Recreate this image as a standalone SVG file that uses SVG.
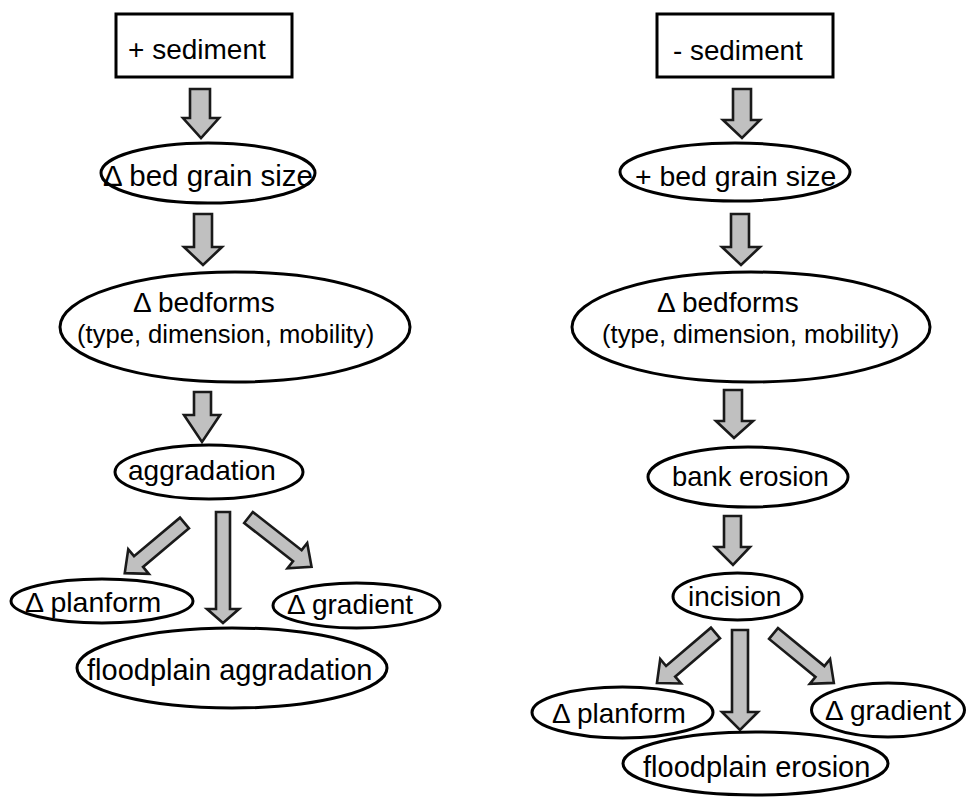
<svg xmlns="http://www.w3.org/2000/svg" width="966" height="797" viewBox="0 0 966 797">
<style>
.box{fill:#fff;stroke:#000;stroke-width:3}
.ell{fill:#fff;stroke:#000;stroke-width:3}
.arr{fill:#c0c0c0;stroke:#1a1a1a;stroke-width:2.6;stroke-linejoin:miter}
text{font-family:"Liberation Sans",Arial,sans-serif;fill:#000;font-size:28px}
</style>
<rect width="966" height="797" fill="#fff"/>
<g id="connectors">
<polygon class="arr" points="190,89 210,89 210,118 219,118 201,138 183,118 190,118"/>
<polygon class="arr" points="194,214 212,214 212,247 222,247 203,265 184,247 194,247"/>
<polygon class="arr" points="194,392 211,392 211,415 220,415 202,442 184,415 194,415"/>
<polygon class="arr" points="216,512 230,512 230,609 239,609 223,623 207,609 216,609"/>
<polygon class="arr" transform="translate(184.5,523) rotate(140)" points="0,-7 60,-7 60,-16 78,0 60,16 60,7 0,7"/>
<polygon class="arr" transform="translate(248.5,517.5) rotate(38)" points="0,-7 62,-7 62,-16 80,0 62,16 62,7 0,7"/>
<polygon class="arr" points="733,89 751,89 751,120 760,120 742,138 723,120 733,120"/>
<polygon class="arr" points="731,214 749,214 749,247 760,247 741,265 722,247 731,247"/>
<polygon class="arr" points="724,390 742,390 742,421 753,421 734,438 716,421 724,421"/>
<polygon class="arr" points="724,516 741,516 741,547 750,547 733,565 715,547 724,547"/>
<polygon class="arr" points="732,630 748,630 748,712 758,712 740,730 722,712 732,712"/>
<polygon class="arr" transform="translate(715.5,633) rotate(139.5)" points="0,-7 59,-7 59,-16 77,0 59,16 59,7 0,7"/>
<polygon class="arr" transform="translate(773.5,633.5) rotate(39.3)" points="0,-7 60,-7 60,-16 78,0 60,16 60,7 0,7"/>
</g>
<g id="plus-sediment"><rect class="box" x="116" y="14" width="176" height="63"/><text x="128" y="59">+ sediment</text></g>
<g id="delta-grain"><ellipse class="ell" cx="208" cy="173" rx="107" ry="30"/><text x="103" y="186" style="font-size:29.5px">Δ bed grain size</text></g>
<g id="delta-bedforms-left"><ellipse class="ell" cx="235" cy="327" rx="175" ry="55"/><text x="133" y="312">Δ bedforms</text><text x="77" y="343" style="font-size:25.6px">(type, dimension, mobility)</text></g>
<g id="aggradation"><ellipse class="ell" cx="209" cy="472" rx="94" ry="27"/><text x="128" y="480">aggradation</text></g>
<g id="planform-left"><ellipse class="ell" cx="102" cy="601" rx="91" ry="22"/><text x="25" y="612" style="font-size:28.5px">Δ planform</text></g>
<g id="gradient-left"><ellipse class="ell" cx="356.5" cy="605.5" rx="83.5" ry="22.5"/><text x="287" y="614">Δ gradient</text></g>
<g id="floodplain-aggradation"><ellipse class="ell" cx="232" cy="668" rx="155" ry="40"/><text x="87" y="680" style="font-size:29px">floodplain aggradation</text></g>
<g id="minus-sediment"><rect class="box" x="657" y="14" width="176" height="63"/><text x="673" y="60" style="font-size:27.8px">- sediment</text></g>
<g id="plus-grain"><ellipse class="ell" cx="735" cy="172" rx="115" ry="29"/><text x="635" y="186" style="font-size:28.4px">+ bed grain size</text></g>
<g id="delta-bedforms-right"><ellipse class="ell" cx="751" cy="327" rx="179" ry="55"/><text x="657" y="312">Δ bedforms</text><text x="602" y="343" style="font-size:25.6px">(type, dimension, mobility)</text></g>
<g id="bank-erosion"><ellipse class="ell" cx="748" cy="477" rx="100" ry="30"/><text x="672" y="486" style="font-size:27.4px">bank erosion</text></g>
<g id="incision"><ellipse class="ell" cx="737.5" cy="596.5" rx="64.5" ry="23.5"/><text x="688" y="606">incision</text></g>
<g id="planform-right"><ellipse class="ell" cx="622.5" cy="712.5" rx="90.5" ry="25.5"/><text x="552" y="723">Δ planform</text></g>
<g id="gradient-right"><ellipse class="ell" cx="888" cy="710" rx="76.5" ry="27"/><text x="825" y="720">Δ gradient</text></g>
<g id="floodplain-erosion"><ellipse class="ell" cx="755.5" cy="763.5" rx="132.5" ry="31.5"/><text x="643" y="777" style="font-size:29px">floodplain erosion</text></g>
</svg>
